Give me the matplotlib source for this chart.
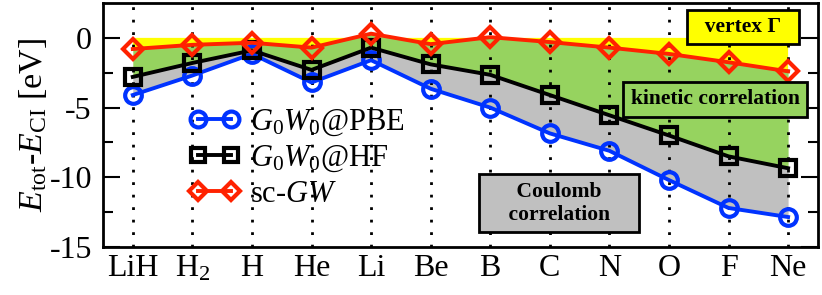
import matplotlib
matplotlib.use("Agg")
import matplotlib.pyplot as plt
import numpy as np

systems = ["LiH", "H$_2$", "H", "He", "Li", "Be", "B", "C", "N", "O", "F", "Ne"]
g0w0_pbe = [-4.1, -2.7, -1.15, -3.2, -1.6, -3.65, -5.0, -6.85, -8.1, -10.2, -12.2, -12.85]
g0w0_hf = [-2.8, -1.8, -0.9, -2.3, -0.7, -1.9, -2.65, -4.1, -5.55, -7.0, -8.5, -9.35]
sc_gw = [-0.8, -0.5, -0.35, -0.7, 0.3, -0.45, 0.05, -0.3, -0.7, -1.15, -1.75, -2.4]
yticks = [0, -5, -10, -15]

plt.rcParams['font.family'] = ['Liberation Serif', 'DejaVu Serif']
plt.rcParams['mathtext.fontset'] = 'custom'
plt.rcParams['mathtext.rm'] = 'Liberation Serif'
plt.rcParams['mathtext.it'] = 'Liberation Serif:italic'
plt.rcParams['mathtext.bf'] = 'Liberation Serif:bold'

fig = plt.figure(figsize=(8.22, 2.95), dpi=100)
ax = fig.add_axes([0.1253, 0.1627, 0.8697, 0.8271])

x = np.arange(len(systems))
pbe = np.array(g0w0_pbe)
hf = np.array(g0w0_hf)
sc = np.array(sc_gw)

ax.fill_between(x, 0, sc, where=sc <= 0, interpolate=True, color='#ffff00', lw=0, zorder=1)
ax.fill_between(x, sc, hf, color='#96d35f', lw=0, zorder=1)
ax.fill_between(x, hf, pbe, color='#c0c0c0', lw=0, zorder=1)

ax.set_axisbelow('line')
ax.grid(axis='x', color='black', linestyle=(0, (1, 3.5)), linewidth=2.0)
ax.grid(axis='y', visible=False)

mew = 3.0
ax.plot(x, pbe, color='#0033ff', lw=2.8, marker='o', ms=12, mfc='none', mew=mew,
        label=r'$G_0W_0$@PBE', zorder=3)
ax.plot(x, hf, color='black', lw=2.8, marker='s', ms=11, mfc='none', mew=mew,
        label=r'$G_0W_0$@HF', zorder=3)
ax.plot(x, sc, color='#ff2200', lw=2.8, marker='D', ms=10, mfc='none', mew=mew,
        label=r'sc-$GW$', zorder=4)

ax.set_xlim(-0.5, 11.5)
ax.set_ylim(-15, 2.5)
ax.set_xticks(x)
ax.set_xticklabels(systems)
ax.set_yticks(yticks)
ax.set_yticklabels([str(v) for v in yticks])
ax.set_yticks([-2.5, -7.5, -12.5], minor=True)

ax.tick_params(axis='x', length=0, pad=5, labelsize=23)
ax.tick_params(axis='y', which='major', direction='in', length=12, width=1.5,
               right=True, pad=8, labelsize=23)
ax.tick_params(axis='y', which='minor', direction='in', length=7, width=1.5, right=True)
for s in ax.spines.values():
    s.set_linewidth(2)

ax.set_ylabel(r'$E_{\rm tot}$-$E_{\rm CI}$ [eV]', fontsize=24.5, labelpad=0)

boxkw = dict(fontsize=15.5, fontweight='bold', ha='center', va='center', zorder=5)
ax.text(10.25, 0.8, '\u2002vertex \u0393\u2002',
        bbox=dict(boxstyle='square,pad=0.33', fc='#ffff00', ec='black', lw=2), **boxkw)
ax.text(9.78, -4.4, 'kinetic correlation',
        bbox=dict(boxstyle='square,pad=0.35', fc='#96d35f', ec='black', lw=2), **boxkw)
ax.text(7.16, -11.85, '\u2003Coulomb\u2003\n\u2003correlation\u2003', linespacing=1.2,
        bbox=dict(boxstyle='square,pad=0.35', fc='#c0c0c0', ec='black', lw=2), **boxkw)

leg = ax.legend(loc='upper left', bbox_to_anchor=(0.094, 0.645), frameon=False,
                fontsize=22, numpoints=2, handlelength=1.68, handletextpad=0.32,
                labelspacing=0.18, borderpad=0.1, markerscale=0.95)

fig.savefig('out.png', dpi=100)
